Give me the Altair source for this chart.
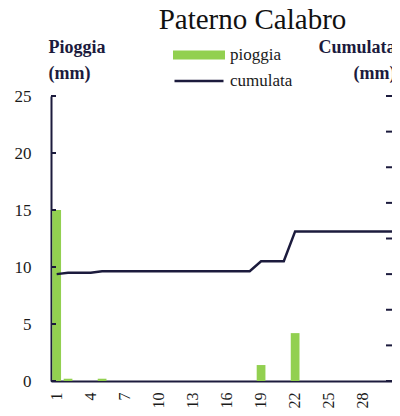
import altair as alt
import pandas as pd

# ---- data ----
days = list(range(1, 32))
pioggia = [15.0, 0.2, 0.0, 0.0, 0.2, 0.0, 0.0, 0.0, 0.0, 0.0,
           0.0, 0.0, 0.0, 0.0, 0.0, 0.0, 0.0, 0.0, 1.4, 0.0,
           0.0, 4.2, 0.0, 0.0, 0.0, 0.0, 0.0, 0.0, 0.0, 0.0, 0.0]
cumulata = [15.0, 15.2, 15.2, 15.2, 15.4, 15.4, 15.4, 15.4, 15.4, 15.4,
            15.4, 15.4, 15.4, 15.4, 15.4, 15.4, 15.4, 15.4, 16.8, 16.8,
            16.8, 21.0, 21.0, 21.0, 21.0, 21.0, 21.0, 21.0, 21.0, 21.0, 21.0]
x_labels = [1, 4, 7, 10, 13, 16, 19, 22, 25, 28]
left_ticks = [0, 5, 10, 15, 20, 25]
right_ticks = [0, 5, 10, 15, 20, 25, 30, 35, 40]

# ---- style ----
W, H = 341, 285          # svg box part of the plot
XR = 352                 # full extent of the day axis (its right end falls off the page)
FONT = "Liberation Serif"
NAVY = "#1c1b3d"
GREEN = "#92d050"
TXT = "#1a1a1a"

df = pd.DataFrame({
    "giorno": days,
    "pioggia": pioggia,
    "cumulata": cumulata,
    "s1": ["pioggia"] * len(days),
    "s2": ["cumulata"] * len(days),
})
lt = pd.DataFrame({"v": left_ticks})
rt = pd.DataFrame({"v": right_ticks})

x_enc = alt.X(
    "giorno:O",
    scale=alt.Scale(range=[0, XR], paddingInner=0.23, paddingOuter=0.115),
    axis=alt.Axis(values=x_labels, labelAngle=270, ticks=False, tickSize=0,
                  labelPadding=11, domainColor=NAVY, domainWidth=2,
                  labelFont=FONT, labelFontSize=16, labelColor=TXT,
                  title=None, grid=False),
)

bars = alt.Chart(df).mark_bar().encode(
    x=x_enc,
    y=alt.Y("pioggia:Q", scale=alt.Scale(domain=[0, 25], nice=False),
            axis=alt.Axis(orient="left", values=left_ticks, ticks=False, tickSize=0,
                          labelPadding=20, domainColor=NAVY, domainWidth=2, grid=False,
                          labelFont=FONT, labelFontSize=17, labelColor=TXT,
                          title=["Pioggia", "(mm)"], titleAngle=0, titleAlign="left",
                          titleBaseline="alphabetic", titleX=-3, titleY=-44,
                          titleFont=FONT, titleFontSize=18, titleFontWeight="bold",
                          titleColor=NAVY, titleLineHeight=26)),
    color=alt.Color("s1:N", scale=alt.Scale(domain=["pioggia"], range=[GREEN]),
                    legend=alt.Legend(orient="none", legendX=122, legendY=-67, title=None,
                                      symbolType="M-1,-0.173L1,-0.173L1,0.173L-1,0.173Z",
                                      symbolSize=2704, symbolStrokeWidth=0,
                                      labelFont=FONT, labelFontSize=17, labelColor=TXT,
                                      labelOffset=5, padding=0)),
)

lrules = alt.Chart(lt).mark_rule(color=NAVY, strokeWidth=2).encode(
    y=alt.Y("v:Q", scale=alt.Scale(domain=[0, 25], nice=False), axis=None),
    x=alt.value(0), x2=alt.value(5),
)

line = alt.Chart(df).mark_line(strokeWidth=2.5).encode(
    x=x_enc,
    y=alt.Y("cumulata:Q", scale=alt.Scale(domain=[0, 40], nice=False),
            axis=alt.Axis(orient="right", values=right_ticks, ticks=False, labels=False,
                          tickSize=0, domain=False, grid=False,
                          title=["Cumulata", "(mm)"], titleAngle=0, titleAlign="right",
                          titleBaseline="alphabetic", titleX=3, titleY=-44,
                          titleFont=FONT, titleFontSize=18, titleFontWeight="bold",
                          titleColor=NAVY, titleLineHeight=26)),
    color=alt.Color("s2:N", scale=alt.Scale(domain=["cumulata"], range=[NAVY]),
                    legend=alt.Legend(orient="none", legendX=122, legendY=-41, title=None,
                                      symbolType="stroke", symbolSize=2401,
                                      symbolStrokeWidth=2.5,
                                      labelFont=FONT, labelFontSize=17, labelColor=TXT,
                                      labelOffset=5, padding=0)),
)

rrules = alt.Chart(rt).mark_rule(color=NAVY, strokeWidth=2).encode(
    y=alt.Y("v:Q", scale=alt.Scale(domain=[0, 40], nice=False), axis=None),
    x=alt.value(W - 6), x2=alt.value(W),
)

chart = alt.layer(bars, lrules, line, rrules).resolve_scale(
    y="independent", color="independent"
).properties(
    width=W, height=H,
    title=alt.TitleParams("Paterno Calabro", font=FONT, fontSize=29, fontWeight="normal",
                          color="#111111", anchor="middle", frame="group", dx=31, dy=10),
    autosize=alt.AutoSizeParams(type="none"),
    padding={"left": 43, "top": 88, "right": 0, "bottom": 27},
).configure_view(stroke=None)

chart.save("out.html", embed_options={"renderer": "svg", "actions": False})
